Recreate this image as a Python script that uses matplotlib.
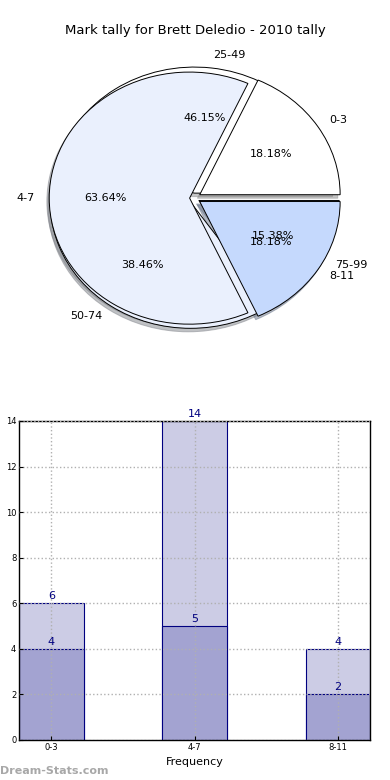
import matplotlib
matplotlib.use('Agg')
import matplotlib.pyplot as plt
import numpy as np

# pie data
tally_labels = ['0-3', '4-7', '8-11']
tally_counts = [2, 7, 2]
pct_labels = ['25-49', '50-74', '75-99']
pct_counts = [6, 5, 2]

# bar data
bar_labels = ['0-3', '4-7', '8-11']
bar_total = [6, 14, 4]
bar_part = [4, 5, 2]

pie_colors = ['#ffffff', '#eaf0fd', '#c5d9fd']
navy = '#000080'
shadow = {'ox': -0.012, 'oy': -0.02, 'shade': 0.45}

fig = plt.figure(figsize=(3.9, 7.8), dpi=100)

# top: two pies drawn on top of each other
ax1 = fig.add_axes([0.047, 0.544, 0.9, 0.404])
ax1.pie(pct_counts, labels=pct_labels, colors=pie_colors, autopct='%.2f%%',
        explode=(0.04, 0.04, 0.04), shadow=shadow,
        wedgeprops={'linewidth': 0.7, 'edgecolor': 'black'},
        textprops={'fontsize': 8})
ax1.pie(tally_counts, labels=tally_labels, colors=pie_colors, autopct='%.2f%%',
        explode=(0.05, 0.03, 0.05), shadow=shadow,
        wedgeprops={'linewidth': 0.7, 'edgecolor': 'black'},
        textprops={'fontsize': 8})
ax1.set_aspect('auto')
ax1.set_xlim(-1.25, 1.25)
ax1.set_ylim(-1.25, 1.25)
fig.text(0.5, 0.961, 'Mark tally for Brett Deledio - 2010 tally',
         ha='center', va='center', fontsize=9.5)

# bottom: overlapping bars
ax2 = fig.add_axes([0.049, 0.0513, 0.9, 0.409])
x = np.arange(len(bar_labels))
w = 0.45
ax2.bar(x, bar_total, width=w, color='#ccccE5', edgecolor=navy, linewidth=0.8, zorder=2)
ax2.bar(x, bar_part, width=w, color='#a3a3d1', edgecolor=navy, linewidth=0.8, zorder=2)
for xi, v in zip(x, bar_total):
    ax2.text(xi, v + 0.1, str(v), ha='center', va='bottom', color=navy, fontsize=8)
for xi, v in zip(x, bar_part):
    ax2.text(xi, v + 0.1, str(v), ha='center', va='bottom', color=navy, fontsize=8)
ax2.set_xlim(-w / 2, 2 + w / 2)
ax2.set_ylim(0, 14)
ax2.set_yticks(range(0, 15, 2))
ax2.set_xticks(x)
ax2.set_xticklabels(bar_labels)
ax2.tick_params(labelsize=6, length=3, direction='in', pad=2)
ax2.grid(True, linestyle=':', color='#b0b0b0', linewidth=1, zorder=3)
ax2.set_axisbelow(False)
ax2.set_xlabel('Frequency', fontsize=8, labelpad=4)
ax2.set_ylabel('Total Marks', fontsize=8)
ax2.yaxis.set_label_coords(-0.055, 0.5)
for s in ax2.spines.values():
    s.set_linewidth(1)

fig.text(0.0, 0.012, 'Dream-Stats.com', color='#a8a8a8', fontsize=8,
         fontweight='bold', ha='left', va='center')

fig.savefig('out.png', dpi=100)
